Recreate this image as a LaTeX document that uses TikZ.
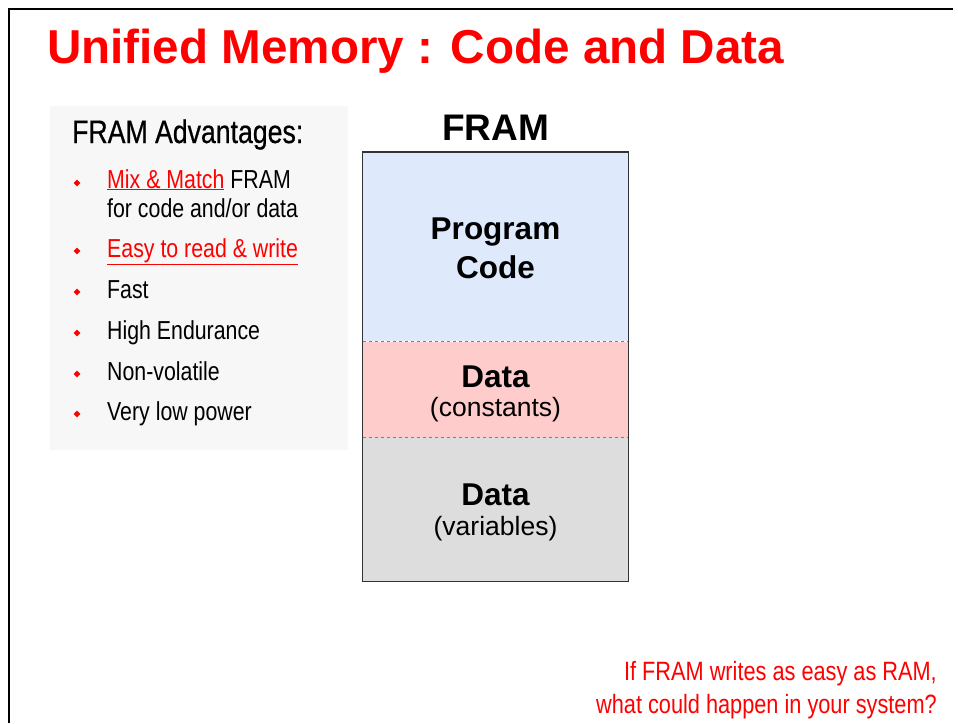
\documentclass[tikz,border=0pt]{standalone}
\usepackage{fontspec}
\setmainfont{Liberation Sans}
\newfontfamily\narrowfont[FakeStretch=0.82]{Liberation Sans}
\newfontfamily\narrowheadfont[FakeStretch=0.82, FakeBold=0.6]{Liberation Sans}
\usetikzlibrary{shapes.geometric}

\definecolor{tired}{RGB}{255,0,0}
\definecolor{panelgray}{RGB}{247,247,247}
\definecolor{codeblue}{RGB}{222,233,252}
\definecolor{constred}{RGB}{255,204,204}
\definecolor{vargray}{RGB}{221,221,221}
\definecolor{edgegray}{RGB}{51,51,51}

\tikzset{
  bullet/.style={diamond, fill=tired, inner sep=0pt, minimum size=7pt},
  item/.style={anchor=base west, inner sep=0pt,
    font=\narrowfont\fontsize{26}{30}\selectfont},
  region/.style={anchor=north, minimum width=265pt, inner sep=0pt},
  bold label/.style={anchor=base, inner sep=0pt, font=\bfseries\fontsize{31.5}{38}\selectfont},
  small label/.style={anchor=base, inner sep=0pt, font=\fontsize{26.5}{30}\selectfont},
}

\begin{document}
\begin{tikzpicture}[x=1pt, y=-1pt]
    \useasboundingbox (0,0) rectangle (958,723);
    % slide frame
    \draw [line width=2.5pt] (9,723) -- (9,9) -- (953,9);
    \node [anchor=base west, inner sep=0pt, text=tired, font=\bfseries\fontsize{47.6}{56}\selectfont]
        (title) at (47,63) {Unified Memory : Code and Data};

    % advantages panel
    \fill [panelgray] (50,106) rectangle (348,450);
    \node [anchor=base west, inner sep=0pt, font=\narrowheadfont\fontsize{32.5}{36}\selectfont]
        (adv) at (72,143) {FRAM Advantages:};
    \foreach \y [count=\i] in {183,251,292,333,374,414}
        \node [bullet] (b\i) at (77,\y) {};
    \node [item] (mix) at (107,188) {\textcolor{tired}{\underline{Mix \& Match}} FRAM};
    \node [item] (mixb) at (107,217) {for code and/or data};
    \node [item, text=tired] (easy) at (107,257) {\underline{Easy to read \& write}};
    \node [item] (fast) at (107,298) {Fast};
    \node [item] (endur) at (107,339) {High Endurance};
    \node [item] (nonvol) at (107,380) {Non-volatile};
    \node [item] (power) at (107,420) {Very low power};

    % memory map
    \node [anchor=base, inner sep=0pt, font=\bfseries\fontsize{37}{44}\selectfont] (fram) at (495.5,140) {FRAM};
    \node [region, fill=codeblue, minimum height=189pt] (code) at (495.5,152) {};
    \node [region, fill=constred, minimum height=96pt] (const) at (code.south) {};
    \node [region, fill=vargray, minimum height=143pt] (vars) at (const.south) {};
    \draw [edgegray, line width=1.2pt] (code.north west) rectangle (vars.south east);
    \draw [gray, dashed, line width=0.8pt] (code.south west) -- (code.south east);
    \draw [gray, dashed, line width=0.8pt] (const.south west) -- (const.south east);
    \node [bold label] (prog) at (495.5,239) {Program};
    \node [bold label] (codetxt) at (495.5,278) {Code};
    \node [bold label] (data1) at (495.5,387) {Data};
    \node [small label] (consttxt) at (495.5,416) {(constants)};
    \node [bold label] (data2) at (495.5,505) {Data};
    \node [small label] (vartxt) at (495.5,535) {(variables)};

    % question
    \node [anchor=base east, inner sep=0pt, align=right, text=tired,
        font=\narrowfont\fontsize{26.5}{33}\selectfont] (quest) at (937,713)
        {If FRAM writes as easy as RAM,\\what could happen in your system?};
\end{tikzpicture}
\end{document}
